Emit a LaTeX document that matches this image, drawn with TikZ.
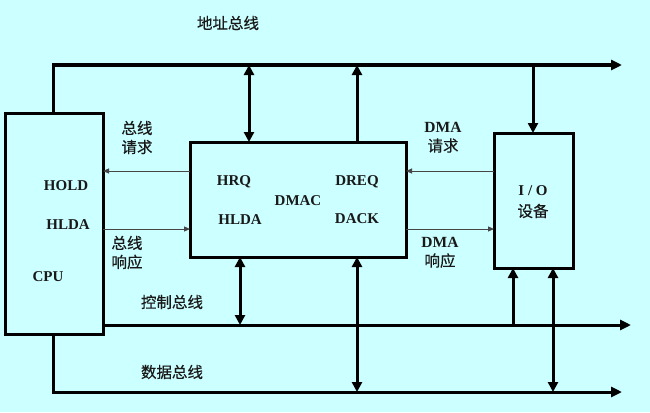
\documentclass[tikz,border=0pt]{standalone}
\usepackage{fontspec}
\setmainfont{Liberation Serif}
\newfontfamily\cjk{Noto Sans CJK SC}[FakeBold=0.4,AutoFakeBold=0.4]
\usetikzlibrary{arrows.meta}
\definecolor{bg}{RGB}{204,255,255}
\definecolor{txt}{RGB}{25,25,25}
\definecolor{thinc}{RGB}{70,70,70}
\begin{document}
\begin{tikzpicture}[x=1pt,y=-1pt,
  box/.style={draw=black,line width=3pt,inner sep=0pt,outer sep=0pt},
  lat/.style={font=\bfseries\fontsize{15}{19}\selectfont,text=txt,inner sep=0pt},
  zh/.style={font=\cjk\bfseries\fontsize{15.5}{19}\selectfont,text=txt,inner sep=0pt},
  mix/.style={align=center,inner sep=0pt,text=txt,font=\fontsize{15.5}{19}\selectfont},
  bus/.style={draw=black,line width=3pt},
  bigtip/.tip={Triangle[length=11pt,width=10pt]},
  vtip/.tip={Triangle[length=10pt,width=10pt]},
  barrow/.style={line width=3pt},
  tarrow/.style={draw=thinc,line width=1pt,-{Triangle[length=6pt,width=5pt]}}
]
\fill[bg] (0,0) rectangle (650,412);
\useasboundingbox (0,0) rectangle (650,412);

% boxes
\node[box,minimum width=98pt,minimum height=221pt] (cpu) at (54,223.5) {};
\node[box,minimum width=216pt,minimum height=115pt] (dmac) at (298,199.5) {};
\node[box,minimum width=79pt,minimum height=135pt] (io) at (533.5,200.5) {};

% box labels
\node[lat] (hold) at (66,186) {HOLD};
\node[lat] (hldac) at (68,225) {HLDA};
\node[lat] (cpul) at (48,277) {CPU};
\node[lat] (hrq) at (234,182) {HRQ};
\node[lat] (dmacl) at (298,201) {DMAC};
\node[lat] (hldad) at (240,220) {HLDA};
\node[lat] (dreq) at (357,182) {DREQ};
\node[lat] (dack) at (357,219) {DACK};
\node[lat] (iol) at (533,191) {I / O};
\node[zh] (devl) at (533,211) {设备};

% bus coordinates
\coordinate (aL) at (53,65);
\coordinate (aR) at (622,65);
\coordinate (cR) at (631,325);
\coordinate (cY) at (0,325);
\coordinate (dL) at (53,392);
\coordinate (dR) at (622,392);

% buses
\draw[bus,-bigtip] (cpu.north -| aL) -- (aL) -- (aR);
\draw[bus,-bigtip] (cpu.east |- cY) -- (cR);
\draw[bus,-bigtip] (cpu.south -| dL) -- (dL) -- (dR);

% taps
\coordinate (a1) at (249,65);
\coordinate (a2) at (357,65);
\coordinate (a3) at (533,65);
\coordinate (c1) at (240,325);
\coordinate (c2) at (513,325);
\coordinate (d1) at (357,392);
\coordinate (d2) at (553,392);

\draw[barrow,vtip-vtip] (a1) -- (a1 |- dmac.north);
\draw[barrow,-vtip] (a2 |- dmac.north) -- (a2);
\draw[barrow,-vtip] (a3) -- (a3 |- io.north);
\draw[barrow,vtip-vtip] (c1 |- dmac.south) -- (c1);
\draw[barrow,vtip-vtip] (d1 |- dmac.south) -- (d1);
\draw[barrow,-vtip] (c2) -- (c2 |- io.south);
\draw[barrow,vtip-vtip] (d2 |- io.south) -- (d2);

% handshake arrows
\coordinate (r1) at (0,171);
\coordinate (r2) at (0,229);
\draw[tarrow] (dmac.west |- r1) -- (cpu.east |- r1);
\draw[tarrow] (cpu.east |- r2) -- (dmac.west |- r2);
\draw[tarrow] (io.west |- r1) -- (dmac.east |- r1);
\draw[tarrow] (dmac.east |- r2) -- (io.west |- r2);

% labels
\node[zh] (abus) at (228,23) {地址总线};
\node[mix] (breq) at (137,137.5) {{\cjk\bfseries 总线}\\{\cjk\bfseries 请求}};
\node[mix] (dreql) at (443,137.5) {\bfseries DMA\\{\cjk\bfseries 请求}};
\node[mix] (back) at (127,252.5) {{\cjk\bfseries 总线}\\{\cjk\bfseries 响应}};
\node[mix] (dackl) at (440,252.5) {\bfseries DMA\\{\cjk\bfseries 响应}};
\node[zh] (cbus) at (172,302) {控制总线};
\node[zh] (dbus) at (172,372) {数据总线};
\end{tikzpicture}
\end{document}
